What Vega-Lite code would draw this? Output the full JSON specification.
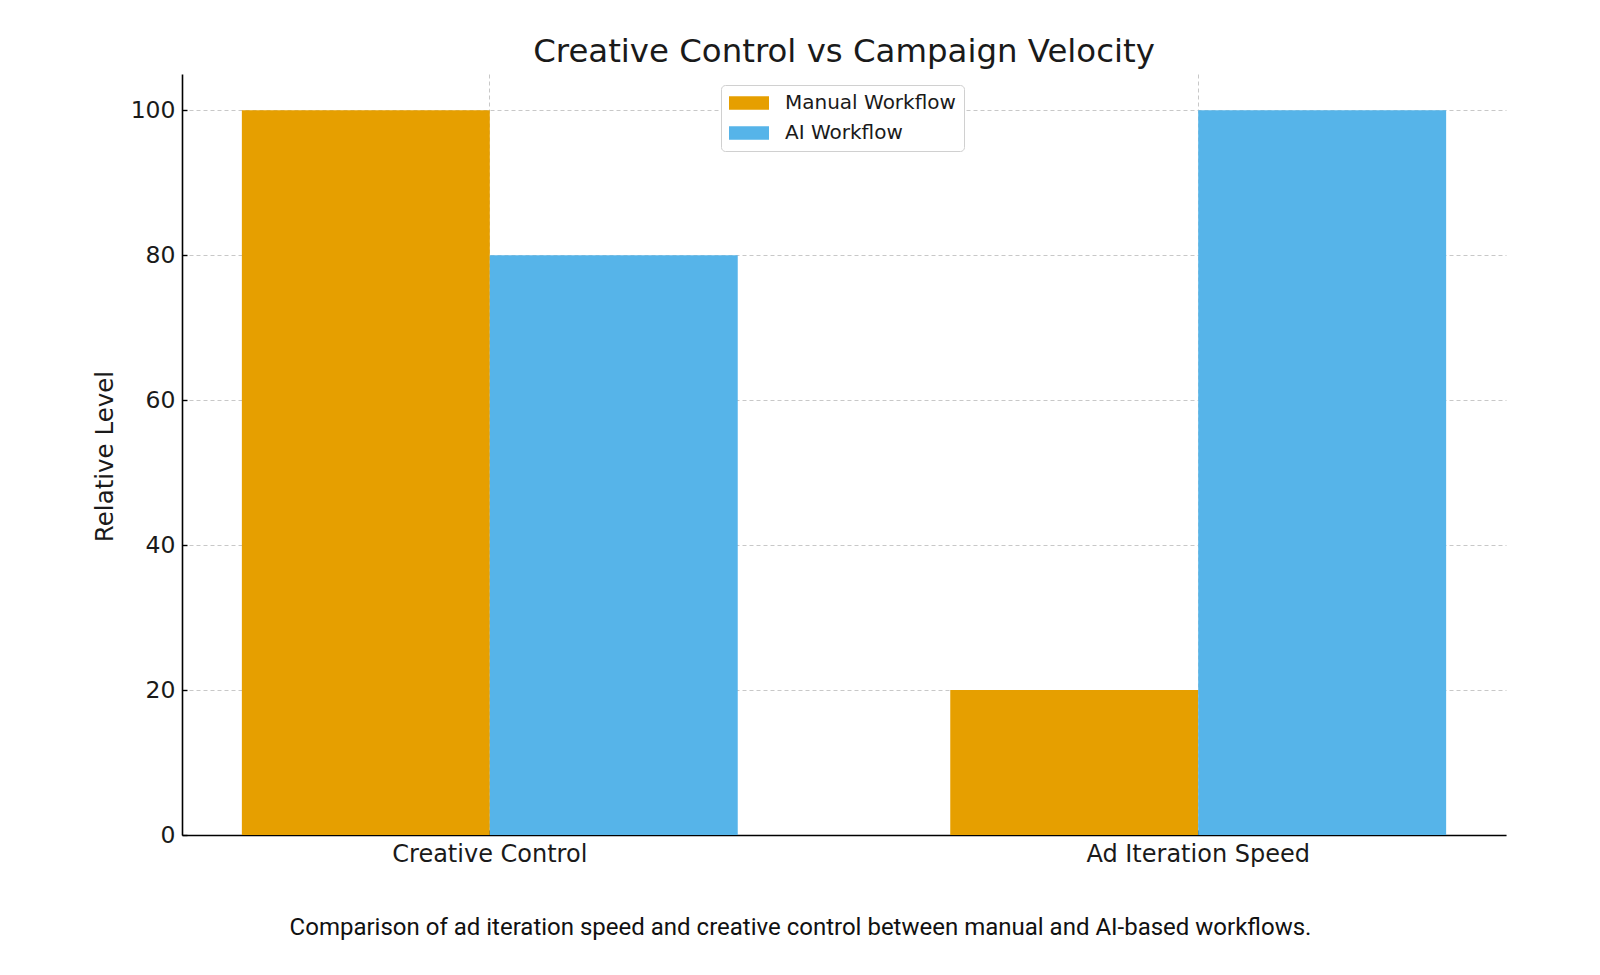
{
  "$schema": "https://vega.github.io/schema/vega-lite/v6.json",
  "autosize": {"type": "none"},
  "width": 1324,
  "height": 761,
  "padding": {"left": 182, "top": 74, "right": 94, "bottom": 140},
  "background": "white",
  "title": {
    "text": "Creative Control vs Campaign Velocity",
    "font": "DejaVu Sans",
    "fontSize": 32.4,
    "fontWeight": "normal",
    "color": "#1a1a1a",
    "anchor": "middle",
    "baseline": "alphabetic",
    "offset": -20
  },
  "data": {
    "values": [
      {"Metric": "Creative Control", "Workflow": "Manual Workflow", "Level": 100},
      {"Metric": "Creative Control", "Workflow": "AI Workflow", "Level": 80},
      {"Metric": "Ad Iteration Speed", "Workflow": "Manual Workflow", "Level": 20},
      {"Metric": "Ad Iteration Speed", "Workflow": "AI Workflow", "Level": 100}
    ]
  },
  "mark": {"type": "bar"},
  "encoding": {
    "x": {
      "field": "Metric",
      "type": "nominal",
      "sort": ["Creative Control", "Ad Iteration Speed"],
      "scale": {"paddingInner": 0.3, "paddingOuter": 0.0845},
      "axis": {
        "labelAngle": 0,
        "labelFont": "DejaVu Sans",
        "labelFontSize": 24,
        "labelLimit": 0,
        "labelColor": "#1a1a1a",
        "labelPadding": 12,
        "bandPosition": 0.5,
        "grid": true,
        "title": "Comparison of ad iteration speed and creative control between manual and AI-based workflows.",
        "titleFont": "Roboto",
        "titleFontSize": 24,
        "titleFontWeight": "normal",
        "titleColor": "#111111",
        "titleLimit": 0,
        "titleX": 618,
        "titleY": 92,
        "titleAlign": "center",
        "titleBaseline": "middle"
      }
    },
    "xOffset": {
      "field": "Workflow",
      "type": "nominal",
      "sort": ["Manual Workflow", "AI Workflow"],
      "scale": {"paddingInner": 0, "paddingOuter": 0}
    },
    "y": {
      "field": "Level",
      "type": "quantitative",
      "scale": {"domain": [0, 105], "nice": false, "zero": true},
      "axis": {
        "values": [0, 20, 40, 60, 80, 100],
        "labelFont": "DejaVu Sans",
        "labelFontSize": 23.5,
        "labelColor": "#1a1a1a",
        "labelPadding": 12,
        "grid": true,
        "title": "Relative Level",
        "titleFont": "DejaVu Sans",
        "titleFontSize": 24.5,
        "titleFontWeight": "normal",
        "titleColor": "#1a1a1a",
        "titleX": -77,
        "titleY": 382,
        "titleAlign": "center",
        "titleBaseline": "middle",
        "titleAngle": -90
      }
    },
    "color": {
      "field": "Workflow",
      "type": "nominal",
      "sort": ["Manual Workflow", "AI Workflow"],
      "scale": {"domain": ["Manual Workflow", "AI Workflow"], "range": ["#E69F00", "#56B4E9"]},
      "legend": {
        "title": null,
        "orient": "none",
        "legendX": 539,
        "legendY": 11,
        "fillColor": "white",
        "strokeColor": "#d0d0d0",
        "cornerRadius": 4,
        "padding": 8,
        "symbolType": "M-2,-0.675H2V0.675H-2Z",
        "symbolSize": 400,
        "symbolStrokeWidth": 0,
        "symbolOpacity": 1,
        "symbolOffset": 10,
        "labelFont": "DejaVu Sans",
        "labelFontSize": 20,
        "labelLimit": 0,
        "labelColor": "#1a1a1a",
        "labelOffset": 26,
        "rowPadding": 10
      }
    }
  },
  "config": {
    "view": {"stroke": null},
    "axis": {
      "domainColor": "black",
      "domainWidth": 1.6,
      "tickColor": "black",
      "tickWidth": 1.4,
      "tickSize": -5,
      "gridColor": "#c8c8c8",
      "gridDash": [4, 3],
      "gridWidth": 1
    }
  }
}
